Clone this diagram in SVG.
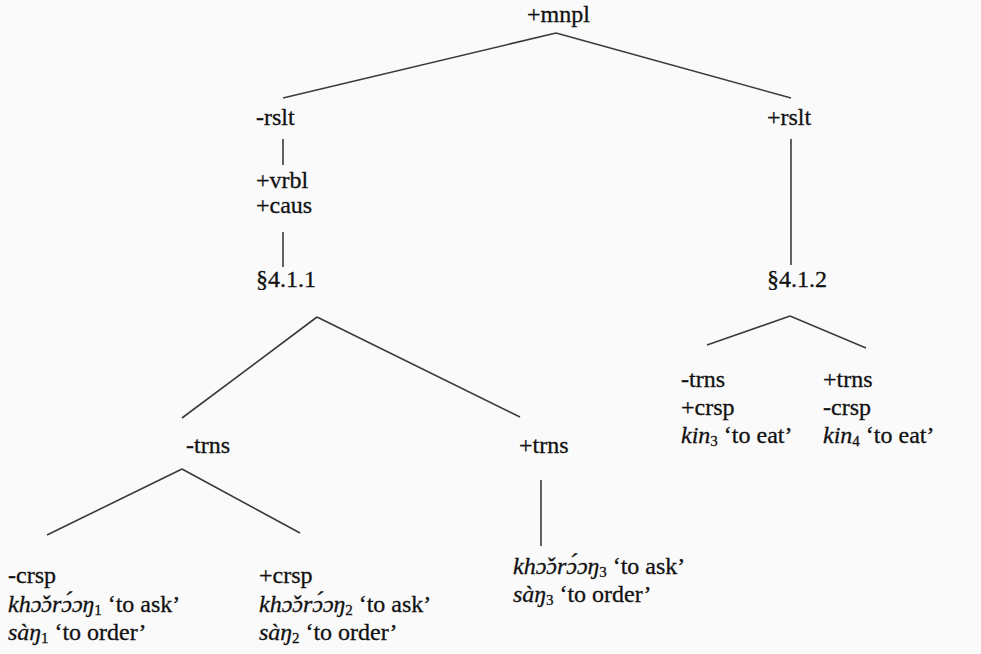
<svg xmlns="http://www.w3.org/2000/svg" width="981" height="654" viewBox="0 0 981 654">
<style>
.t text{font-family:"Liberation Serif","Times New Roman",serif;font-size:24px;fill:#111;stroke:#111;stroke-width:0.3}
.it{font-style:italic}
.sub{font-size:15px}
.c line{stroke:#3a3a3a;stroke-width:1.6;fill:none}
</style>
<rect width="981" height="654" fill="#fafafa"/>
<g class="c" id="connectors">
<line x1="556" y1="33" x2="283" y2="98"/>
<line x1="556" y1="33" x2="791" y2="98"/>
<line x1="283" y1="139" x2="283" y2="165"/>
<line x1="283" y1="232" x2="283" y2="267"/>
<line x1="791" y1="139" x2="791" y2="265"/>
<line x1="317" y1="317" x2="182" y2="418"/>
<line x1="317" y1="317" x2="520" y2="417"/>
<line x1="182" y1="469" x2="47" y2="535"/>
<line x1="182" y1="469" x2="300" y2="533"/>
<line x1="541" y1="480" x2="541" y2="546"/>
<line x1="790" y1="316" x2="707" y2="345"/>
<line x1="790" y1="316" x2="866" y2="348"/>
</g>
<g class="t">
<g id="n-mnpl"><text x="527" y="22">+mnpl</text></g>
<g id="n-neg-rslt"><text x="256" y="125">-rslt</text></g>
<g id="n-pos-rslt"><text x="767" y="125">+rslt</text></g>
<g id="n-vrbl-caus"><text x="256" y="188">+vrbl</text><text x="256" y="213">+caus</text></g>
<g id="n-411"><text x="256" y="287">§4.1.1</text></g>
<g id="n-412"><text x="767" y="287">§4.1.2</text></g>
<g id="n-neg-trns"><text x="186" y="453">-trns</text></g>
<g id="n-pos-trns"><text x="519" y="453">+trns</text></g>
<g id="n-leaf1">
<text x="8" y="583">-crsp</text>
<text x="8" y="612"><tspan class="it">khɔ̌ɔrɔ́ɔŋ</tspan><tspan class="sub" dy="3">1</tspan><tspan dy="-3"> ‘to ask’</tspan></text>
<text x="8" y="640"><tspan class="it">sàŋ</tspan><tspan class="sub" dy="3">1</tspan><tspan dy="-3"> ‘to order’</tspan></text>
</g>
<g id="n-leaf2">
<text x="259" y="583">+crsp</text>
<text x="259" y="612"><tspan class="it">khɔ̌ɔrɔ́ɔŋ</tspan><tspan class="sub" dy="3">2</tspan><tspan dy="-3"> ‘to ask’</tspan></text>
<text x="259" y="640"><tspan class="it">sàŋ</tspan><tspan class="sub" dy="3">2</tspan><tspan dy="-3"> ‘to order’</tspan></text>
</g>
<g id="n-leaf3">
<text x="513" y="574"><tspan class="it">khɔ̌ɔrɔ́ɔŋ</tspan><tspan class="sub" dy="3">3</tspan><tspan dy="-3"> ‘to ask’</tspan></text>
<text x="513" y="602"><tspan class="it">sàŋ</tspan><tspan class="sub" dy="3">3</tspan><tspan dy="-3"> ‘to order’</tspan></text>
</g>
<g id="n-leaf4">
<text x="681" y="387">-trns</text>
<text x="681" y="415">+crsp</text>
<text x="681" y="443"><tspan class="it">kin</tspan><tspan class="sub" dy="3">3</tspan><tspan dy="-3"> ‘to eat’</tspan></text>
</g>
<g id="n-leaf5">
<text x="823" y="387">+trns</text>
<text x="823" y="415">-crsp</text>
<text x="823" y="443"><tspan class="it">kin</tspan><tspan class="sub" dy="3">4</tspan><tspan dy="-3"> ‘to eat’</tspan></text>
</g>
</g>
</svg>
